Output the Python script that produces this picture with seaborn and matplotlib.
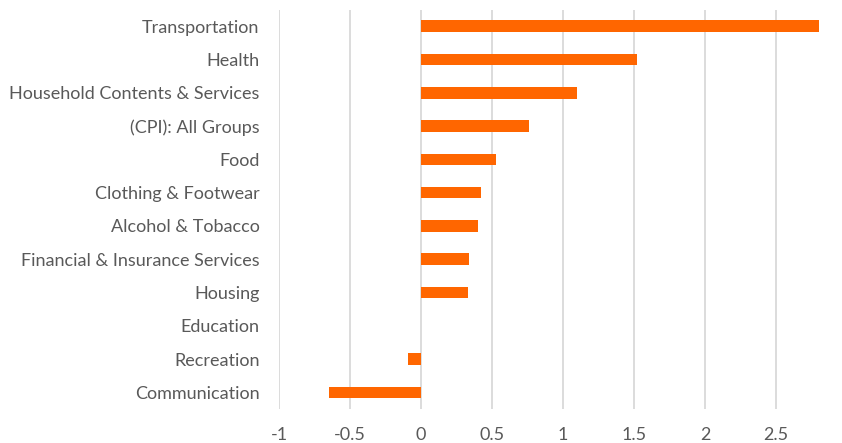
import matplotlib
matplotlib.use("Agg")
import matplotlib.pyplot as plt
import seaborn as sns
import pandas as pd

categories = [
    "Transportation", "Health", "Household Contents & Services", "(CPI): All Groups",
    "Food", "Clothing & Footwear", "Alcohol & Tobacco", "Financial & Insurance Services",
    "Housing", "Education", "Recreation", "Communication",
]
values = [2.80, 1.52, 1.10, 0.76, 0.53, 0.42, 0.40, 0.34, 0.33, 0.0, -0.09, -0.65]
x_ticks = [-1, -0.5, 0, 0.5, 1, 1.5, 2, 2.5, 3]
x_tick_labels = ["-1", "-0.5", "0", "0.5", "1", "1.5", "2", "2.5", "3"]

df = pd.DataFrame({"category": categories, "value": values})

sns.set_style("white")
plt.rcParams["font.family"] = ["Lato", "DejaVu Sans"]

fig = plt.figure(figsize=(8.42, 4.43), dpi=100)
ax = fig.add_axes([279 / 842, 1 - 409 / 443, (847 - 279) / 842, (409 - 9.6) / 443])

sns.barplot(data=df, x="value", y="category", order=categories, color="#FF6600",
            width=0.35, saturation=1, linewidth=0, ax=ax, zorder=3)

ax.set_xlim(-1, 3)
ax.set_ylim(len(categories) - 0.5, -0.5)
ax.set_xticks(x_ticks)
ax.set_xticklabels(x_tick_labels)
ax.set_xlabel("")
ax.set_ylabel("")
ax.grid(axis="x", color="#D9D9D9", linewidth=1.3, zorder=0)
ax.grid(axis="y", visible=False)
for s in ax.spines.values():
    s.set_visible(False)
ax.tick_params(axis="both", length=0, labelsize=13, colors="#595959")
ax.tick_params(axis="y", pad=14)
ax.tick_params(axis="x", pad=13)

fig.savefig("out.png", dpi=100)
